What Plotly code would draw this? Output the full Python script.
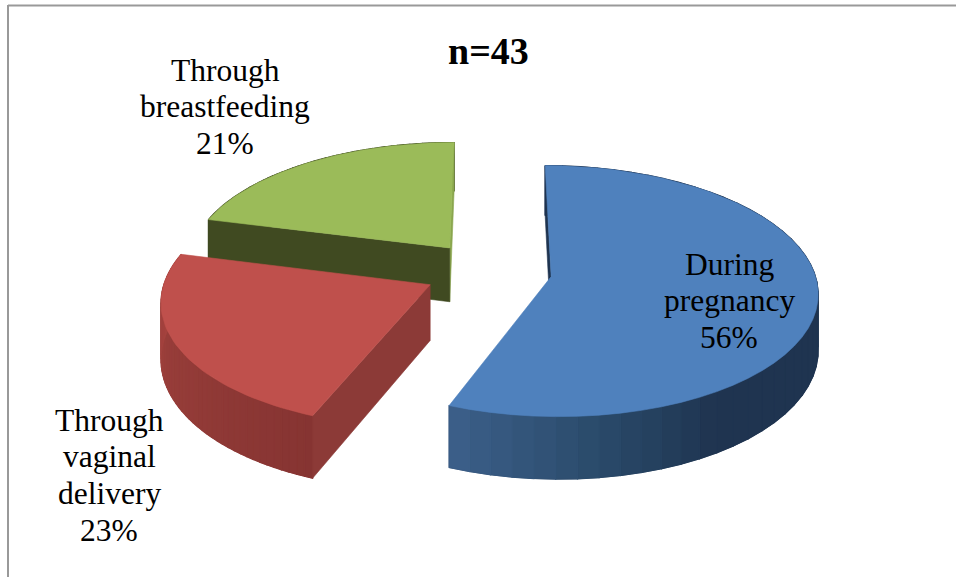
import math
import plotly.graph_objects as go

# Share of cases by route of transmission
categories = ["During pregnancy", "Through vaginal delivery", "Through breastfeeding"]
values = [56, 23, 21]
label_lines = [["During", "pregnancy"], ["Through", "vaginal", "delivery"], ["Through", "breastfeeding"]]
label_centres = [(729, 264), (109, 420), (225, 70)]
line_step = 36.8
title_text = "n=43"

top_colors = ["#4f81bd", "#bf504c", "#9bbb59"]
# Rim shading: (clockwise angle, colour) stops for each wedge
rim_stops = [
    [(0, (31, 52, 80)), (148, (31, 52, 80)), (172, (42, 74, 106)), (201.6, (60, 96, 138))],
    [(201.6, (134, 52, 50)), (250, (152, 62, 58)), (284.4, (170, 68, 64))],
    [(284.4, (63, 74, 34)), (360, (63, 74, 34))],
]
# Flat cut faces: colour on the leading edge and on the trailing edge (None when turned away)
start_cut = ["#1f3450", "#8c3a37", "#404a21"]
end_cut = [None, None, "#8aa64e"]

# Pie solid and camera parameters, in pixels
RADIUS = 263
DEPTH = 55
EXPLODE = 64
CENTRE_X = -5
VANISH_X = 493
HORIZON = -796
GROUND = 271
CAMERA = 2290


def project(x, y, z=0.0):
    s = CAMERA / (CAMERA + y)
    return VANISH_X + x * s, HORIZON + (GROUND - HORIZON) * s - z * s


def hex_of(rgb):
    return "#%02x%02x%02x" % tuple(int(round(c)) for c in rgb)


def shade(stops, angle):
    for (a0, c0), (a1, c1) in zip(stops, stops[1:]):
        if a0 <= angle <= a1:
            t = (angle - a0) / (a1 - a0)
            return tuple(p + (q - p) * t for p, q in zip(c0, c1))
    return stops[-1][1]


fig = go.Figure()


def polygon(points, color, width=0.6):
    fig.add_trace(go.Scatter(
        x=[p[0] for p in points] + [points[0][0]],
        y=[p[1] for p in points] + [points[0][1]],
        mode="lines", fill="toself", fillcolor=color,
        line=dict(color=color, width=width), hoverinfo="skip", showlegend=False,
    ))


# Each wedge's angular span follows from its value
total = sum(values)
spans = []
start = 0.0
for v in values:
    spans.append((start, start + 360.0 * v / total))
    start = spans[-1][1]

# Paint from the back wedge to the front one
for i in [2, 1, 0]:
    a0, a1 = spans[i]
    mid = math.radians((a0 + a1) / 2)
    ox = CENTRE_X + EXPLODE * math.sin(mid)
    oy = EXPLODE * math.cos(mid)

    def rim(deg):
        t = math.radians(deg)
        return ox + RADIUS * math.sin(t), oy + RADIUS * math.cos(t)

    n = 48
    angles = [a0 + (a1 - a0) * k / n for k in range(n + 1)]

    # Solid backing for the rim so the shaded strips leave no light seams
    backing = [project(*rim(b)) for b in angles] + [project(*rim(b), -DEPTH) for b in reversed(angles)]
    polygon(backing, hex_of(shade(rim_stops[i], (a0 + a1) / 2)))
    for b0, b1 in zip(angles, angles[1:]):
        p, q = rim(b0), rim(b1)
        polygon([project(*p), project(*q), project(*q, -DEPTH), project(*p, -DEPTH)],
                hex_of(shade(rim_stops[i], (b0 + b1) / 2)), width=1.2)

    for deg, col in ((a1, end_cut[i]), (a0, start_cut[i])):
        if col is None:
            continue
        rx, ry = rim(deg)
        polygon([project(ox, oy), project(rx, ry), project(rx, ry, -DEPTH), project(ox, oy, -DEPTH)], col)

    polygon([project(ox, oy)] + [project(*rim(b)) for b in angles], top_colors[i])

annotations = [dict(x=488, y=51, text=f"<b>{title_text}</b>", showarrow=False,
                    font=dict(family="Liberation Serif", size=38, color="#000000"))]
for lines, v, (cx, cy) in zip(label_lines, values, label_centres):
    for k, line in enumerate(lines + [f"{v}%"]):
        annotations.append(dict(x=cx, y=cy + k * line_step, text=line, showarrow=False,
                                font=dict(family="Liberation Serif", size=31.5, color="#000000")))

fig.update_layout(
    width=956, height=577, margin=dict(l=0, r=0, t=0, b=0),
    paper_bgcolor="#ffffff", plot_bgcolor="#ffffff", showlegend=False,
    xaxis=dict(range=[0, 956], visible=False, fixedrange=True),
    yaxis=dict(range=[577, 0], visible=False, fixedrange=True),
    annotations=annotations,
    shapes=[
        dict(type="line", x0=8, x1=956, y0=5.5, y1=5.5, line=dict(color="#999999", width=2)),
        dict(type="line", x0=8, x1=8, y0=5, y1=577, line=dict(color="#999999", width=2)),
    ],
)
fig.write_html("out.html", config=dict(displayModeBar=False))
